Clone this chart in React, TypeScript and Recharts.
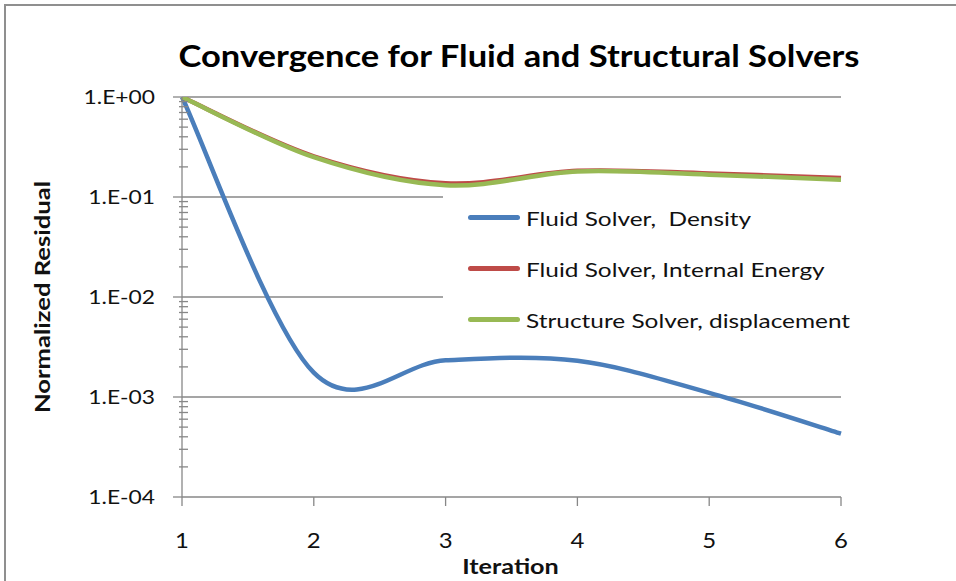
import React from 'react';
import { LineChart, Line, XAxis, YAxis, ReferenceLine, Legend } from 'recharts';

// ---- data ----
const iterations = [1, 2, 3, 4, 5, 6];
const fluidDensity = [1.0, 1.75e-3, 2.33e-3, 2.3e-3, 1.1e-3, 4.3e-4];
const fluidEnergy = [1.0, 0.255, 0.137, 0.183, 0.172, 0.155];
const structureDisp = [1.0, 0.25, 0.131, 0.18, 0.167, 0.149];
const yMajorTicks = [1e-4, 1e-3, 1e-2, 1e-1, 1];
const yTickLabels = ['1.E-04', '1.E-03', '1.E-02', '1.E-01', '1.E+00'];
const xTicks = [1, 2, 3, 4, 5, 6];
const seriesNames = ['Fluid Solver,  Density', 'Fluid Solver, Internal Energy', 'Structure Solver, displacement'];
const seriesColors = ['#4A7EBB', '#BE4B48', '#98B954'];

const data = iterations.map((it, i) => ({
  it,
  density: fluidDensity[i],
  energy: fluidEnergy[i],
  disp: structureDisp[i],
}));

const minorTicks: number[] = [];
yMajorTicks.slice(0, -1).forEach((m) => {
  for (let k = 2; k <= 9; k++) minorTicks.push(m * k);
});
const allYTicks = [...yMajorTicks, ...minorTicks].sort((a, b) => a - b);

const FONT = 'Lato, "Open Sans", sans-serif';
const GRID = '#878787';

// Excel-like smoothed line (Bezier with 1/6 neighbour tangents)
const excelSmooth = (context: any) => {
  let pts: number[][] = [];
  return {
    areaStart() {},
    areaEnd() {},
    lineStart() {
      pts = [];
    },
    point(x: number, y: number) {
      pts.push([+x, +y]);
    },
    lineEnd() {
      if (!pts.length) return;
      context.moveTo(pts[0][0], pts[0][1]);
      for (let i = 0; i < pts.length - 1; i++) {
        const p0 = pts[i - 1] || pts[i];
        const p1 = pts[i];
        const p2 = pts[i + 1];
        const p3 = pts[i + 2] || pts[i + 1];
        const c1x = p1[0] + (p2[0] - p0[0]) / 6;
        const c1y = p1[1] + (p2[1] - p0[1]) / 6;
        const c2x = p2[0] - (p3[0] - p1[0]) / 6;
        const c2y = p2[1] - (p3[1] - p1[1]) / 6;
        context.bezierCurveTo(c1x, c1y, c2x, c2y, p2[0], p2[1]);
      }
    },
  };
};

const YTick = (props: any) => {
  const { x, y, payload } = props;
  const v = payload.value;
  const idx = yMajorTicks.findIndex((m) => Math.abs(Math.log10(m) - Math.log10(v)) < 1e-6);
  if (idx >= 0) {
    return (
      <g>
        <line x1={x - 9} x2={x} y1={y} y2={y} stroke={GRID} strokeWidth={1.3} />
        <text
          x={0}
          y={0}
          dy="0.36em"
          transform={`translate(${x - 27}, ${y}) scale(1.14, 1)`}
          textAnchor="end"
          fontFamily={FONT}
          fontSize={20}
          fill="#111"
        >
          {yTickLabels[idx]}
        </text>
      </g>
    );
  }
  return <line x1={x - 3} x2={x + 6} y1={y} y2={y} stroke={GRID} strokeWidth={1.3} />;
};

const XTick = (props: any) => {
  const { x, y, payload } = props;
  return (
    <g>
      <line x1={x} x2={x} y1={y} y2={y + 9} stroke={GRID} strokeWidth={1.3} />
      <text
        x={0}
        y={0}
        dy="0.36em"
        transform={`translate(${x}, ${y + 43}) scale(1.14, 1)`}
        textAnchor="middle"
        fontFamily={FONT}
        fontSize={21}
        fill="#111"
      >
        {payload.value}
      </text>
    </g>
  );
};

const LegendContent = () => (
  <div style={{ background: '#fff', width: '100%', height: '100%', boxSizing: 'border-box' }}>
    {seriesNames.map((name, i) => (
      <div key={name} style={{ display: 'flex', alignItems: 'center', height: 51, paddingLeft: 25 }}>
        <div style={{ width: 52, height: 5, borderRadius: 3, background: seriesColors[i], marginRight: 6, flex: 'none' }} />
        <span
          style={{
            fontFamily: FONT,
            fontSize: 20,
            color: '#111',
            whiteSpace: 'pre',
            display: 'inline-block',
            transform: 'scaleX(1.22)',
            transformOrigin: 'left center',
          }}
        >
          {name}
        </span>
      </div>
    ))}
  </div>
);

export default function App() {
  return (
    <div style={{ position: 'fixed', left: 0, top: 0, width: 956, height: 581, overflow: 'hidden', background: '#fff' }}>
      <div
        style={{
          position: 'absolute',
          left: 4,
          top: 4,
          width: 1100,
          height: 800,
          border: '2px solid #8f8f8f',
          boxSizing: 'border-box',
        }}
      />
      <div
        style={{
          position: 'absolute',
          left: 0,
          top: 35,
          width: 1038,
          textAlign: 'center',
          fontFamily: FONT,
          fontWeight: 700,
          fontSize: 30,
          color: '#000',
          lineHeight: '40px',
          transform: 'scaleX(1.15)',
          transformOrigin: '519px 50%',
        }}
      >
        Convergence for Fluid and Structural Solvers
      </div>
      <div style={{ position: 'absolute', left: 0, top: 0 }}>
        <LineChart width={956} height={581} data={data} margin={{ top: 97, right: 115, bottom: 0, left: 0 }}>
          <XAxis
            dataKey="it"
            type="number"
            domain={[1, 6]}
            ticks={xTicks}
            interval={0}
            height={84}
            tickSize={0}
            tickMargin={0}
            tickLine={false}
            axisLine={{ stroke: GRID, strokeWidth: 1.3 }}
            tick={<XTick />}
            label={(p: any) => (
              <text
                x={0}
                y={0}
                dy="0.36em"
                transform={`translate(${p.viewBox.x + p.viewBox.width / 2 - 1}, 566) scale(1.2, 1)`}
                textAnchor="middle"
                fontFamily={FONT}
                fontWeight={700}
                fontSize={21}
                fill="#111"
              >
                Iteration
              </text>
            )}
          />
          <YAxis
            scale="log"
            type="number"
            domain={[1e-4, 1]}
            allowDataOverflow
            ticks={allYTicks}
            interval={0}
            width={182}
            tickSize={0}
            tickMargin={0}
            tickLine={false}
            axisLine={{ stroke: GRID, strokeWidth: 1.3 }}
            tick={<YTick />}
            label={(p: any) => (
              <text
                x={0}
                y={0}
                dy="0.36em"
                transform={`translate(42, ${p.viewBox.y + p.viewBox.height / 2}) rotate(-90) scale(1.22, 1)`}
                textAnchor="middle"
                fontFamily={FONT}
                fontWeight={700}
                fontSize={21}
                fill="#111"
              >
                Normalized Residual
              </text>
            )}
          />
          {yMajorTicks.slice(1).map((v) => (
            <ReferenceLine key={v} y={v} stroke={GRID} strokeWidth={1.3} />
          ))}
          <Line
            dataKey="density"
            name={seriesNames[0]}
            stroke={seriesColors[0]}
            strokeWidth={4.5}
            dot={false}
            type={excelSmooth as any}
            isAnimationActive={false}
          />
          <Line
            dataKey="energy"
            name={seriesNames[1]}
            stroke={seriesColors[1]}
            strokeWidth={4.5}
            dot={false}
            type={excelSmooth as any}
            isAnimationActive={false}
          />
          <Line
            dataKey="disp"
            name={seriesNames[2]}
            stroke={seriesColors[2]}
            strokeWidth={4.5}
            dot={false}
            type={excelSmooth as any}
            isAnimationActive={false}
          />
          <Legend
            layout="vertical"
            align="center"
            verticalAlign="middle"
            content={<LegendContent />}
            wrapperStyle={{ left: 443, top: 192, width: 425, height: 145, right: 'auto', bottom: 'auto' }}
          />
        </LineChart>
      </div>
    </div>
  );
}
